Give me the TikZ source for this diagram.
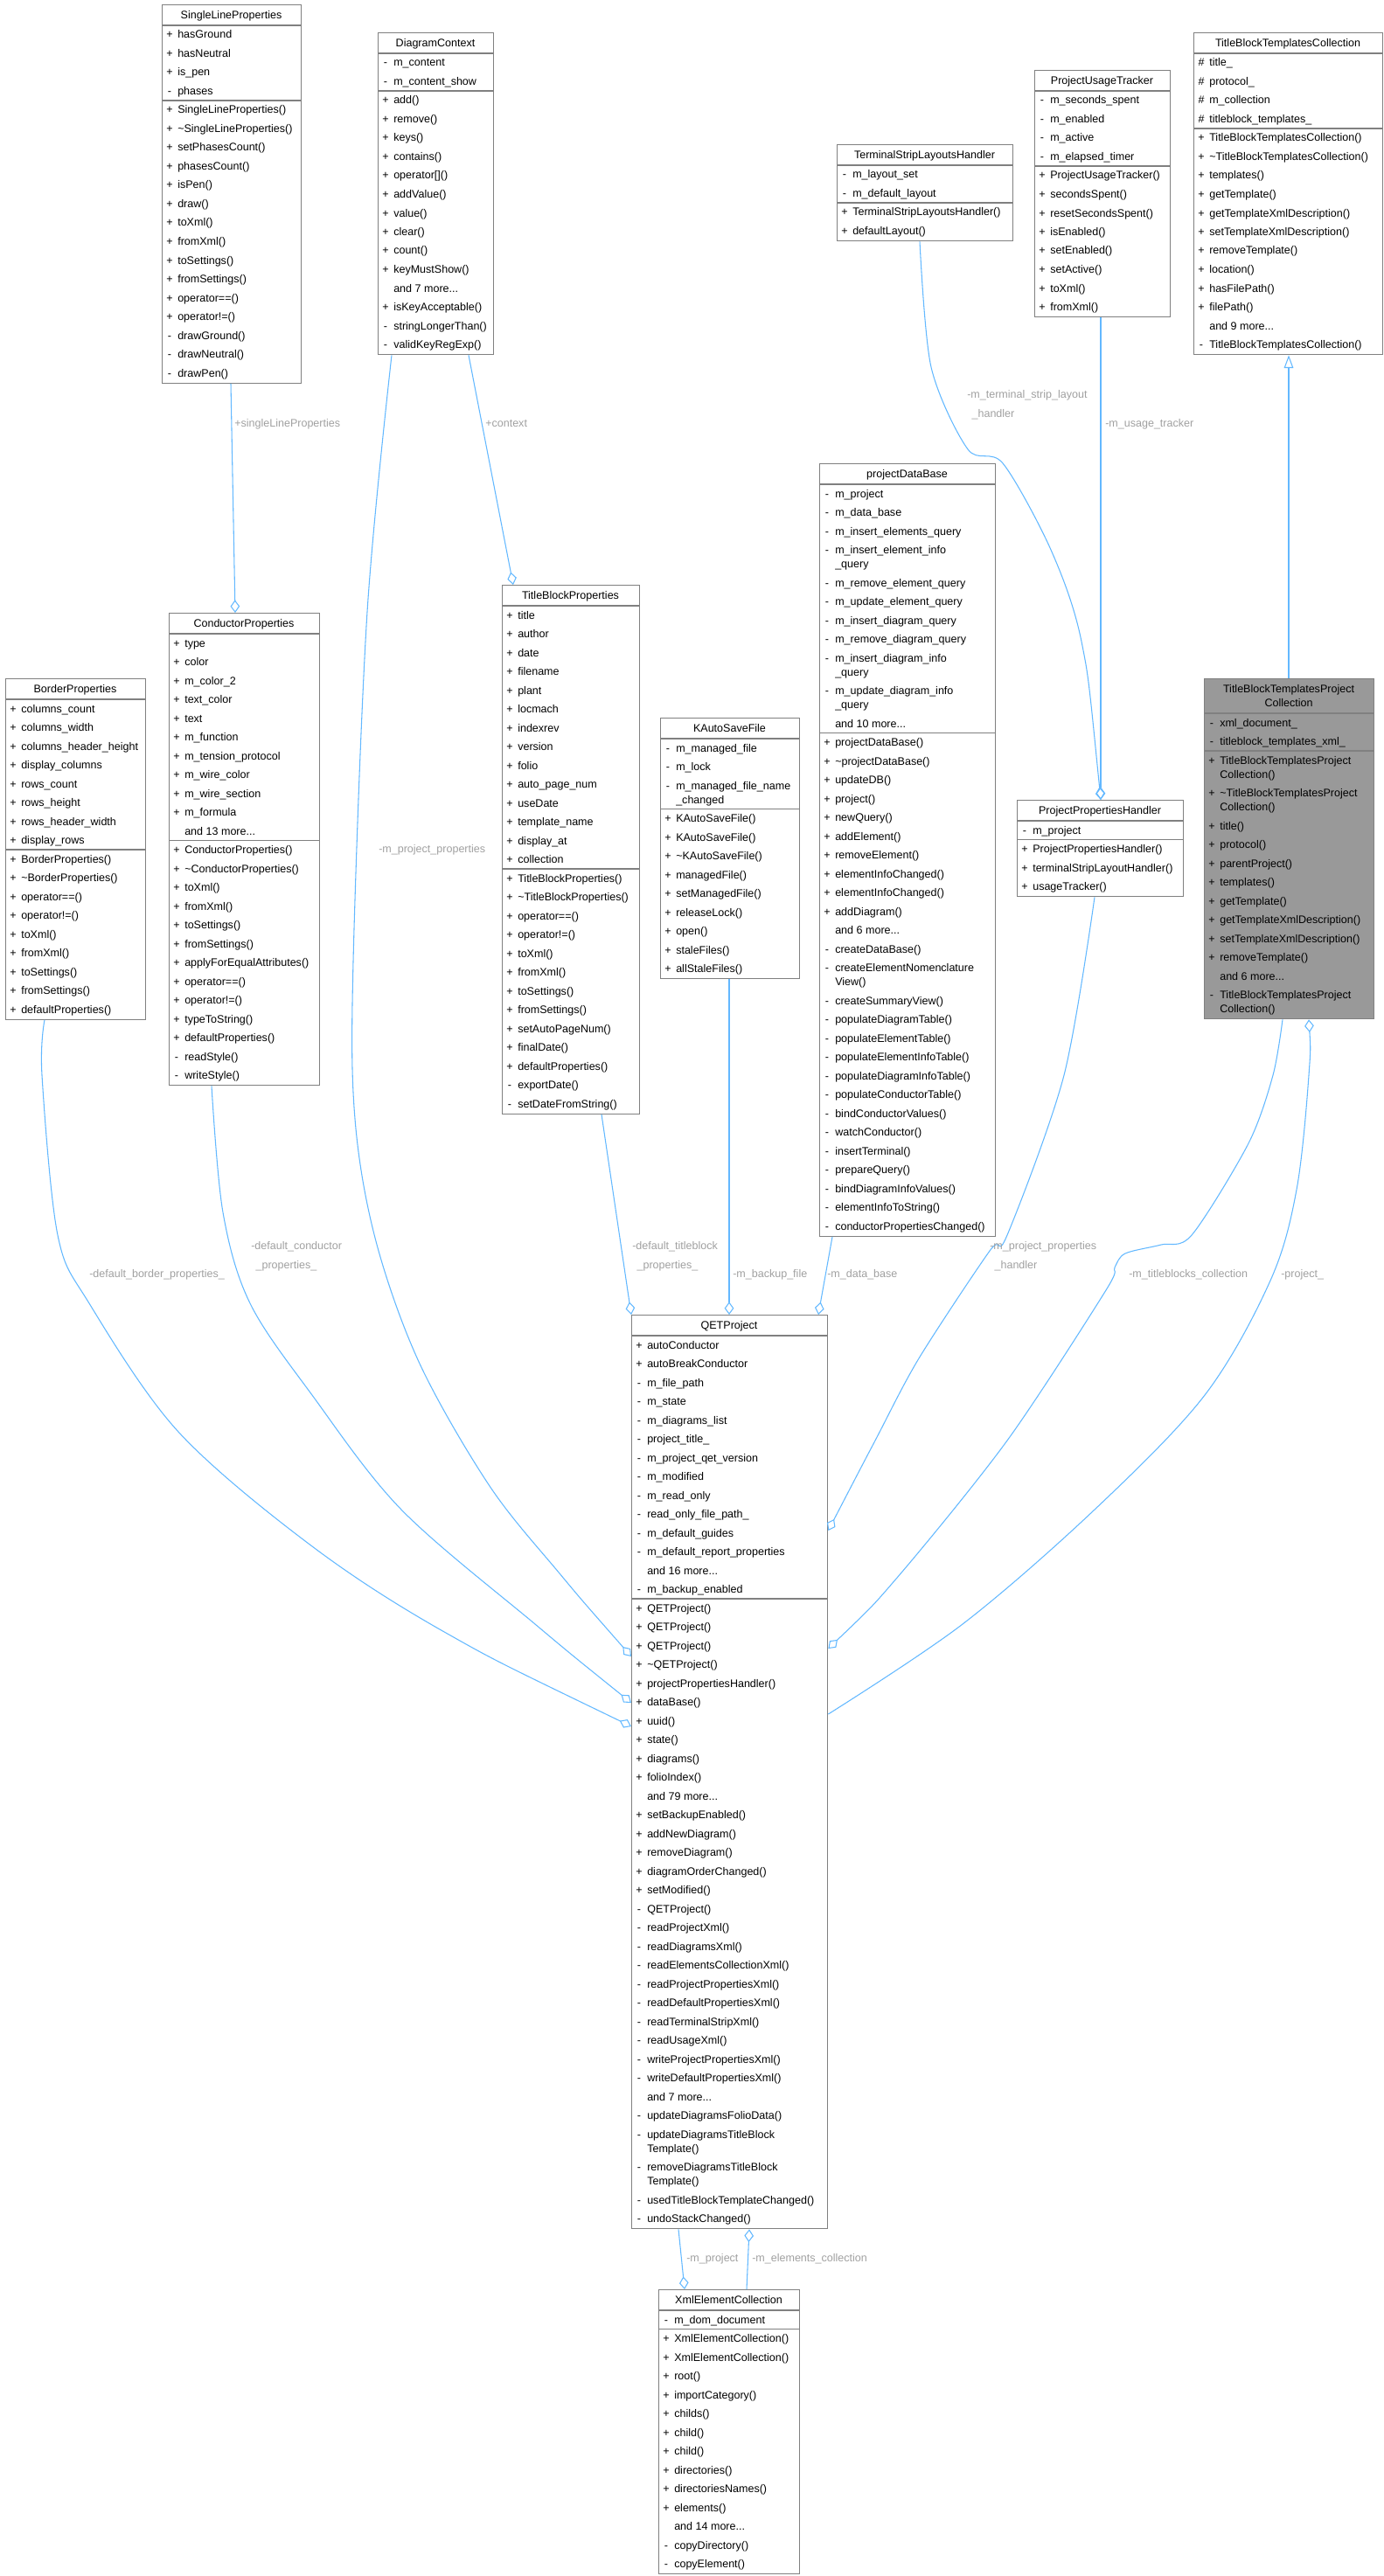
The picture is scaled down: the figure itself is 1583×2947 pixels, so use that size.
\documentclass[tikz,border=0pt]{standalone}
\usepackage{fontspec}
\setmainfont{Liberation Sans}
\usetikzlibrary{arrows.meta,calc,backgrounds}
\definecolor{bdc}{HTML}{808080}
\definecolor{conc}{HTML}{63B8FF}
\definecolor{labc}{HTML}{A0A0A0}
\definecolor{gfill}{HTML}{999999}
\newcommand\tld{\textasciitilde}
\newcommand\ubox[5][white]{\xdef\bF{#1}\xdef\bN{#2}\xdef\bL{#3}\xdef\bR{#4}\xdef\bT{#5}\xdef\cy{#5}}
\newcommand\utitle[1]{\node[txt,anchor=base] at ({(\bL+\bR)/2},\cy+16.5) {#1};\pgfmathsetmacro\tmpy{\cy+24}\xdef\cy{\tmpy}\usep}
\newcommand\utitleb[2]{\node[txt,anchor=base] at ({(\bL+\bR)/2},\cy+16.5) {#1};\node[txt,anchor=base] at ({(\bL+\bR)/2},\cy+32.5) {#2};\pgfmathsetmacro\tmpy{\cy+40}\xdef\cy{\tmpy}\usep}
\newcommand\usep{\draw[bd] (\bL,\cy) -- (\bR,\cy);}
\newcommand\um[2]{\node[txt,anchor=base] at (\bL+9,\cy+15) {#1};\node[txt,anchor=base west] at (\bL+18,\cy+15) {#2};\pgfmathsetmacro\tmpy{\cy+21.5}\xdef\cy{\tmpy}}
\newcommand\umw[3]{\node[txt,anchor=base] at (\bL+9,\cy+15) {#1};\node[txt,anchor=base west] at (\bL+18,\cy+15) {#2};\node[txt,anchor=base west] at (\bL+18,\cy+31) {#3};\pgfmathsetmacro\tmpy{\cy+37.5}\xdef\cy{\tmpy}}
\newcommand\uend{\pgfmathsetmacro\ww{(\bR-\bL)*0.75}\pgfmathsetmacro\hh{(\cy-\bT)*0.75}%
\begin{pgfonlayer}{background}\node[draw=bdc,line width=1pt,fill=\bF,minimum width=\ww pt,minimum height=\hh pt,anchor=north west,inner sep=0pt] (\bN) at (\bL,\bT) {};\end{pgfonlayer}}
\begin{document}
\catcode`\_=12
\begin{tikzpicture}[x=0.75pt,y=-0.75pt,
  txt/.style={inner sep=0pt,font=\fontsize{9.4}{11}\selectfont},
  bd/.style={draw=bdc,line width=1pt},
  con/.style={draw=conc,line width=0.8pt},
  dia/.style={{Diamond[open,length=11pt,width=8pt]}-},
  inh/.style={{Triangle[open,length=11pt,width=8pt]}-},
  lab/.style={inner sep=0pt,anchor=base west,text=labc,align=left,font=\fontsize{9.4}{16}\selectfont}]
\useasboundingbox (0,0) rectangle (1583,2947);
% SingleLineProperties
\ubox{slp}{185}{344}{5}\utitle{SingleLineProperties}
\um{+}{hasGround}\um{+}{hasNeutral}\um{+}{is_pen}\um{-}{phases}\usep
\um{+}{SingleLineProperties()}\um{+}{\tld SingleLineProperties()}\um{+}{setPhasesCount()}\um{+}{phasesCount()}\um{+}{isPen()}\um{+}{draw()}\um{+}{toXml()}\um{+}{fromXml()}\um{+}{toSettings()}\um{+}{fromSettings()}\um{+}{operator==()}\um{+}{operator!=()}\um{-}{drawGround()}\um{-}{drawNeutral()}\um{-}{drawPen()}\uend
% DiagramContext
\ubox{dc}{432}{564}{37}\utitle{DiagramContext}
\um{-}{m_content}\um{-}{m_content_show}\usep
\um{+}{add()}\um{+}{remove()}\um{+}{keys()}\um{+}{contains()}\um{+}{operator[]()}\um{+}{addValue()}\um{+}{value()}\um{+}{clear()}\um{+}{count()}\um{+}{keyMustShow()}\um{}{and 7 more...}\um{+}{isKeyAcceptable()}\um{-}{stringLongerThan()}\um{-}{validKeyRegExp()}\uend
% TerminalStripLayoutsHandler
\ubox{tslh}{957}{1158}{165}\utitle{TerminalStripLayoutsHandler}
\um{-}{m_layout_set}\um{-}{m_default_layout}\usep
\um{+}{TerminalStripLayoutsHandler()}\um{+}{defaultLayout()}\uend
% ProjectUsageTracker
\ubox{put}{1183}{1338}{80}\utitle{ProjectUsageTracker}
\um{-}{m_seconds_spent}\um{-}{m_enabled}\um{-}{m_active}\um{-}{m_elapsed_timer}\usep
\um{+}{ProjectUsageTracker()}\um{+}{secondsSpent()}\um{+}{resetSecondsSpent()}\um{+}{isEnabled()}\um{+}{setEnabled()}\um{+}{setActive()}\um{+}{toXml()}\um{+}{fromXml()}\uend
% TitleBlockTemplatesCollection
\ubox{tbtc}{1365}{1581}{37}\utitle{TitleBlockTemplatesCollection}
\um{\#}{title_}\um{\#}{protocol_}\um{\#}{m_collection}\um{\#}{titleblock_templates_}\usep
\um{+}{TitleBlockTemplatesCollection()}\um{+}{\tld TitleBlockTemplatesCollection()}\um{+}{templates()}\um{+}{getTemplate()}\um{+}{getTemplateXmlDescription()}\um{+}{setTemplateXmlDescription()}\um{+}{removeTemplate()}\um{+}{location()}\um{+}{hasFilePath()}\um{+}{filePath()}\um{}{and 9 more...}\um{-}{TitleBlockTemplatesCollection()}\uend
% BorderProperties
\ubox{bp}{6}{166}{776}\utitle{BorderProperties}
\um{+}{columns_count}\um{+}{columns_width}\um{+}{columns_header_height}\um{+}{display_columns}\um{+}{rows_count}\um{+}{rows_height}\um{+}{rows_header_width}\um{+}{display_rows}\usep
\um{+}{BorderProperties()}\um{+}{\tld BorderProperties()}\um{+}{operator==()}\um{+}{operator!=()}\um{+}{toXml()}\um{+}{fromXml()}\um{+}{toSettings()}\um{+}{fromSettings()}\um{+}{defaultProperties()}\uend
% ConductorProperties
\ubox{cp}{193}{365}{701}\utitle{ConductorProperties}
\um{+}{type}\um{+}{color}\um{+}{m_color_2}\um{+}{text_color}\um{+}{text}\um{+}{m_function}\um{+}{m_tension_protocol}\um{+}{m_wire_color}\um{+}{m_wire_section}\um{+}{m_formula}\um{}{and 13 more...}\usep
\um{+}{ConductorProperties()}\um{+}{\tld ConductorProperties()}\um{+}{toXml()}\um{+}{fromXml()}\um{+}{toSettings()}\um{+}{fromSettings()}\um{+}{applyForEqualAttributes()}\um{+}{operator==()}\um{+}{operator!=()}\um{+}{typeToString()}\um{+}{defaultProperties()}\um{-}{readStyle()}\um{-}{writeStyle()}\uend
% TitleBlockProperties
\ubox{tbp}{574}{731}{669}\utitle{TitleBlockProperties}
\um{+}{title}\um{+}{author}\um{+}{date}\um{+}{filename}\um{+}{plant}\um{+}{locmach}\um{+}{indexrev}\um{+}{version}\um{+}{folio}\um{+}{auto_page_num}\um{+}{useDate}\um{+}{template_name}\um{+}{display_at}\um{+}{collection}\usep
\um{+}{TitleBlockProperties()}\um{+}{\tld TitleBlockProperties()}\um{+}{operator==()}\um{+}{operator!=()}\um{+}{toXml()}\um{+}{fromXml()}\um{+}{toSettings()}\um{+}{fromSettings()}\um{+}{setAutoPageNum()}\um{+}{finalDate()}\um{+}{defaultProperties()}\um{-}{exportDate()}\um{-}{setDateFromString()}\uend
% KAutoSaveFile
\ubox{kas}{755}{914}{821}\utitle{KAutoSaveFile}
\um{-}{m_managed_file}\um{-}{m_lock}\umw{-}{m_managed_file_name}{_changed}\usep
\um{+}{KAutoSaveFile()}\um{+}{KAutoSaveFile()}\um{+}{\tld KAutoSaveFile()}\um{+}{managedFile()}\um{+}{setManagedFile()}\um{+}{releaseLock()}\um{+}{open()}\um{+}{staleFiles()}\um{+}{allStaleFiles()}\uend
% projectDataBase
\ubox{pdb}{937}{1138}{530}\utitle{projectDataBase}
\um{-}{m_project}\um{-}{m_data_base}\um{-}{m_insert_elements_query}\umw{-}{m_insert_element_info}{_query}\um{-}{m_remove_element_query}\um{-}{m_update_element_query}\um{-}{m_insert_diagram_query}\um{-}{m_remove_diagram_query}\umw{-}{m_insert_diagram_info}{_query}\umw{-}{m_update_diagram_info}{_query}\um{}{and 10 more...}\usep
\um{+}{projectDataBase()}\um{+}{\tld projectDataBase()}\um{+}{updateDB()}\um{+}{project()}\um{+}{newQuery()}\um{+}{addElement()}\um{+}{removeElement()}\um{+}{elementInfoChanged()}\um{+}{elementInfoChanged()}\um{+}{addDiagram()}\um{}{and 6 more...}\um{-}{createDataBase()}\umw{-}{createElementNomenclature}{View()}\um{-}{createSummaryView()}\um{-}{populateDiagramTable()}\um{-}{populateElementTable()}\um{-}{populateElementInfoTable()}\um{-}{populateDiagramInfoTable()}\um{-}{populateConductorTable()}\um{-}{bindConductorValues()}\um{-}{watchConductor()}\um{-}{insertTerminal()}\um{-}{prepareQuery()}\um{-}{bindDiagramInfoValues()}\um{-}{elementInfoToString()}\um{-}{conductorPropertiesChanged()}\uend
% ProjectPropertiesHandler
\ubox{pph}{1163}{1353}{915}\utitle{ProjectPropertiesHandler}
\um{-}{m_project}\usep
\um{+}{ProjectPropertiesHandler()}\um{+}{terminalStripLayoutHandler()}\um{+}{usageTracker()}\uend
% TitleBlockTemplatesProjectCollection
\ubox[gfill]{tbtpc}{1377}{1571}{776}\utitleb{TitleBlockTemplatesProject}{Collection}
\um{-}{xml_document_}\um{-}{titleblock_templates_xml_}\usep
\umw{+}{TitleBlockTemplatesProject}{Collection()}\umw{+}{\tld TitleBlockTemplatesProject}{Collection()}\um{+}{title()}\um{+}{protocol()}\um{+}{parentProject()}\um{+}{templates()}\um{+}{getTemplate()}\um{+}{getTemplateXmlDescription()}\um{+}{setTemplateXmlDescription()}\um{+}{removeTemplate()}\um{}{and 6 more...}\umw{-}{TitleBlockTemplatesProject}{Collection()}\uend
% QETProject
\ubox{qet}{722}{946}{1504}\utitle{QETProject}
\um{+}{autoConductor}\um{+}{autoBreakConductor}\um{-}{m_file_path}\um{-}{m_state}\um{-}{m_diagrams_list}\um{-}{project_title_}\um{-}{m_project_qet_version}\um{-}{m_modified}\um{-}{m_read_only}\um{-}{read_only_file_path_}\um{-}{m_default_guides}\um{-}{m_default_report_properties}\um{}{and 16 more...}\um{-}{m_backup_enabled}\usep
\um{+}{QETProject()}\um{+}{QETProject()}\um{+}{QETProject()}\um{+}{\tld QETProject()}\um{+}{projectPropertiesHandler()}\um{+}{dataBase()}\um{+}{uuid()}\um{+}{state()}\um{+}{diagrams()}\um{+}{folioIndex()}\um{}{and 79 more...}\um{+}{setBackupEnabled()}\um{+}{addNewDiagram()}\um{+}{removeDiagram()}\um{+}{diagramOrderChanged()}\um{+}{setModified()}\um{-}{QETProject()}\um{-}{readProjectXml()}\um{-}{readDiagramsXml()}\um{-}{readElementsCollectionXml()}\um{-}{readProjectPropertiesXml()}\um{-}{readDefaultPropertiesXml()}\um{-}{readTerminalStripXml()}\um{-}{readUsageXml()}\um{-}{writeProjectPropertiesXml()}\um{-}{writeDefaultPropertiesXml()}\um{}{and 7 more...}\um{-}{updateDiagramsFolioData()}\umw{-}{updateDiagramsTitleBlock}{Template()}\umw{-}{removeDiagramsTitleBlock}{Template()}\um{-}{usedTitleBlockTemplateChanged()}\um{-}{undoStackChanged()}\uend
% XmlElementCollection
\ubox{xec}{753}{914}{2619}\utitle{XmlElementCollection}
\um{-}{m_dom_document}\usep
\um{+}{XmlElementCollection()}\um{+}{XmlElementCollection()}\um{+}{root()}\um{+}{importCategory()}\um{+}{childs()}\um{+}{child()}\um{+}{child()}\um{+}{directories()}\um{+}{directoriesNames()}\um{+}{elements()}\um{}{and 14 more...}\um{-}{copyDirectory()}\um{-}{copyElement()}\uend
% connector end points
\coordinate (slpB) at ($(slp.south west)+(79,0)$);
\coordinate (cpT) at ($(cp.north west)+(76,0)$);
\coordinate (dcB1) at ($(dc.south west)+(104,0)$);
\coordinate (dcB2) at ($(dc.south west)+(16,0)$);
\coordinate (tbpT) at ($(tbp.north west)+(13,0)$);
\coordinate (bpB) at ($(bp.south west)+(45,0)$);
\coordinate (cpB) at ($(cp.south west)+(49,0)$);
\coordinate (tbpB) at ($(tbp.south west)+(114,0)$);
\coordinate (kasB) at ($(kas.south west)+(79,0)$);
\coordinate (pdbB) at ($(pdb.south west)+(15,0)$);
\coordinate (qetT1) at ($(qet.north west)+(0,0)$);
\coordinate (qetT2) at ($(qet.north west)+(112,0)$);
\coordinate (qetT3) at ($(qet.north west)+(214,0)$);
\coordinate (qetL1) at ($(qet.north west)+(0,391)$);
\coordinate (qetL2) at ($(qet.north west)+(0,444)$);
\coordinate (qetL3) at ($(qet.north west)+(0,471)$);
\coordinate (qetR1) at ($(qet.north east)+(0,247)$);
\coordinate (qetR2) at ($(qet.north east)+(0,382)$);
\coordinate (qetR3) at ($(qet.north east)+(0,457)$);
\coordinate (pphB) at ($(pph.south west)+(89,0)$);
\coordinate (pphT) at ($(pph.north west)+(96,0)$);
\coordinate (putB) at ($(put.south west)+(76,0)$);
\coordinate (tslhB) at ($(tslh.south west)+(95,0)$);
\coordinate (tbtpcB1) at ($(tbtpc.south west)+(90,0)$);
\coordinate (tbtpcB2) at ($(tbtpc.south west)+(120,0)$);
\coordinate (tbtpcT) at ($(tbtpc.north west)+(97,0)$);
\coordinate (tbtcB) at ($(tbtc.south west)+(109,0)$);
\coordinate (qetB1) at ($(qet.south west)+(54,0)$);
\coordinate (qetB2) at ($(qet.south west)+(135,0)$);
\coordinate (xecT1) at ($(xec.north west)+(30,0)$);
\coordinate (xecT2) at ($(xec.north west)+(101,0)$);
% connectors
\draw[con,dia] (cpT) -- (slpB);
\draw[con,dia] (tbpT) -- (dcB1);
\draw[con,dia] plot[smooth,tension=0.55] coordinates {(qetL1) (640,1800) (560,1700) (480,1560) (430,1420) (406,1280) (404,1100) (420,700) (dcB2)};
\draw[con,dia] plot[smooth,tension=0.55] coordinates {(qetL3) (510,1868) (357,1769) (204,1638) (102,1491) (66,1413) (48,1230) (bpB)};
\draw[con,dia] plot[smooth,tension=0.55] coordinates {(qetL2) (612,1858) (459,1727) (357,1596) (286,1491) (255,1387) (cpB)};
\draw[con,dia] (qetT1) -- (tbpB);
\draw[con,dia] (qetT2) -- (kasB);
\draw[con,dia] (qetT3) -- (pdbB);
\draw[con,dia] plot[smooth,tension=0.5] coordinates {(qetR1) (1001,1648) (1051,1554) (1132,1431) (1152,1413) (1217,1230) (pphB)};
\draw[con,dia] plot[smooth,tension=0.5] coordinates {(qetR2) (1026,1805) (1152,1648) (1265,1476) (1275,1450) (1287,1434) (1328,1424) (1363,1413) (1428,1308) (1456,1230) (tbtpcB1)};
\draw[con,dia] plot[smooth,tension=0.55] coordinates {(tbtpcB2) (1497,1230) (1483,1361) (1453,1465) (1378,1596) (1252,1727) (1101,1858) (qetR3)};
\draw[con,dia] plot[smooth,tension=0.5] coordinates {(pphT) (1237,734) (1202,629) (1147,530) (1107,514) (1065,420) (tslhB)};
\draw[con,dia] (pphT) -- (putB);
\draw[con,inh] (tbtcB) -- (tbtpcT);
\draw[con,dia] (xecT1) -- (qetB1);
\draw[con,dia] (qetB2) -- (xecT2);
% labels
\node[lab] (l1) at (268,488) {+singleLineProperties};
\node[lab] (l2) at (555,488) {+context};
\node[lab] (l3) at (433,975) {-m_project_properties};
\node[lab] (l4) at (1106,477) {-m_terminal_strip_layout\\\hspace*{4pt}_handler};
\node[lab] (l5) at (1264,488) {-m_usage_tracker};
\node[lab] (l6) at (102,1461) {-default_border_properties_};
\node[lab] (l7) at (287,1451) {-default_conductor\\\hspace*{4pt}_properties_};
\node[lab] (l8) at (723,1451) {-default_titleblock\\\hspace*{4pt}_properties_};
\node[lab] (l9) at (838,1461) {-m_backup_file};
\node[lab] (l10) at (946,1461) {-m_data_base};
\node[lab] (l11) at (1132,1451) {-m_project_properties\\\hspace*{4pt}_handler};
\node[lab] (l12) at (1291,1461) {-m_titleblocks_collection};
\node[lab] (l13) at (1465,1461) {-project_};
\node[lab] (l14) at (785,2587) {-m_project};
\node[lab] (l15) at (860,2587) {-m_elements_collection};
\end{tikzpicture}
\end{document}
